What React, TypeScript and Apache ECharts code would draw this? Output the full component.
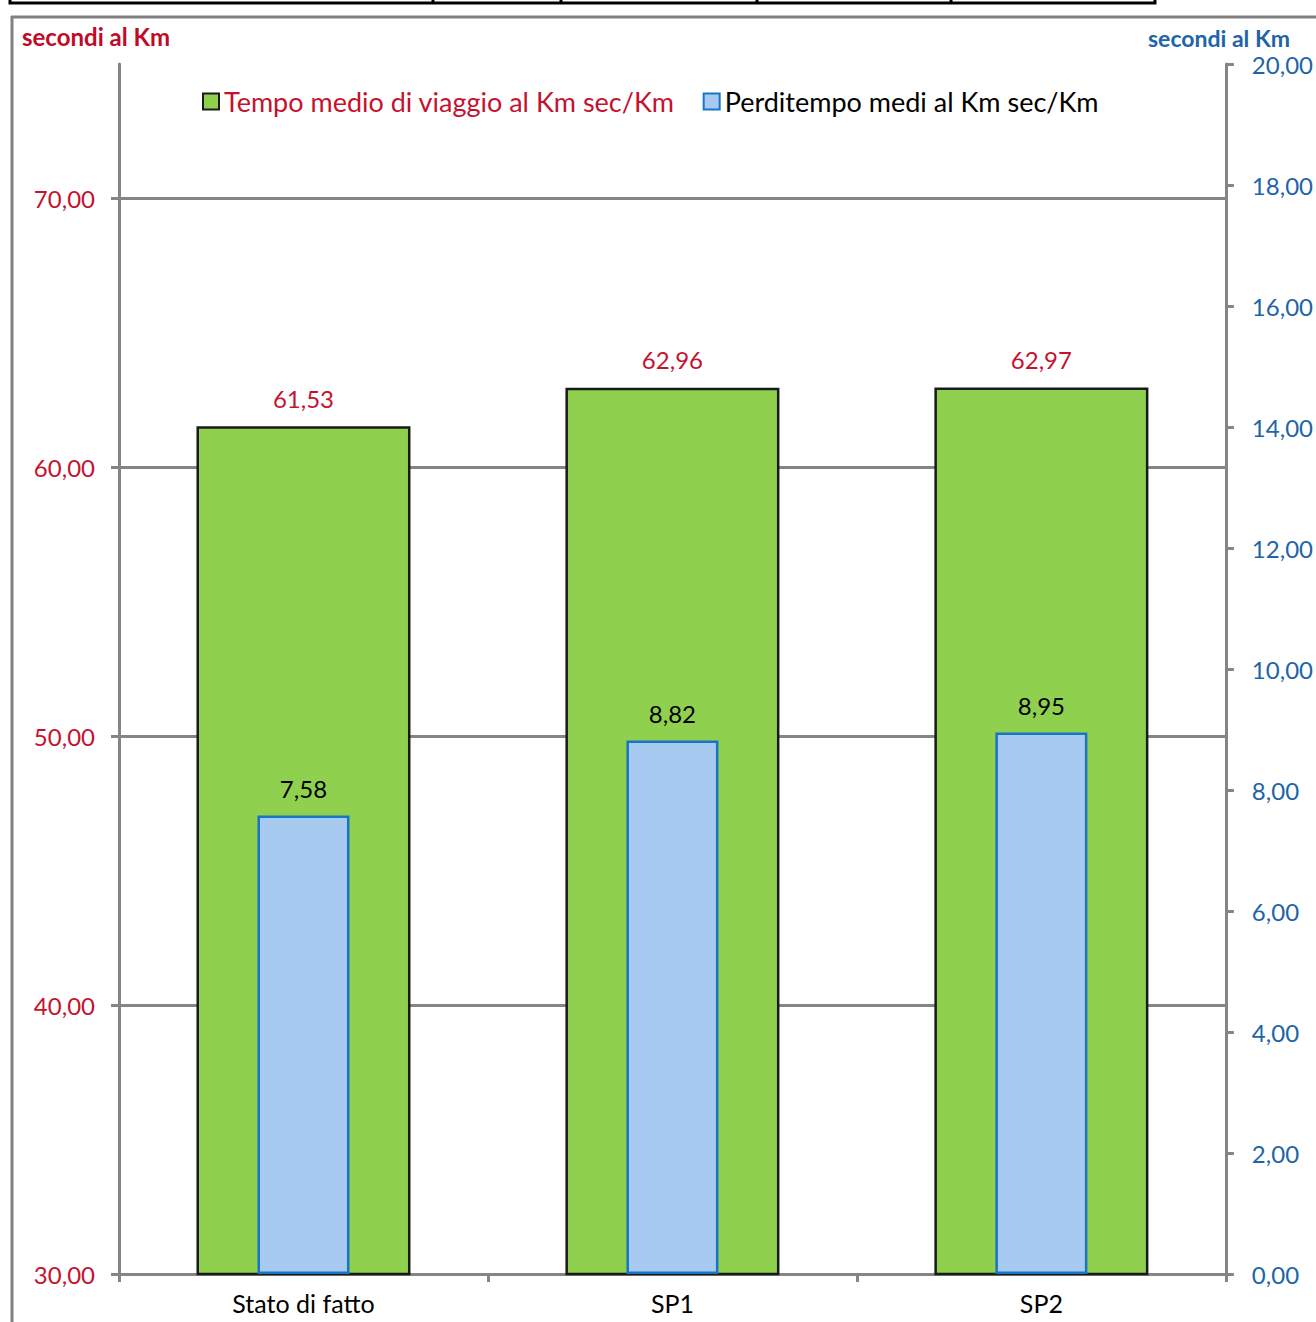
import React, { useEffect, useRef } from "react";
import * as echarts from "echarts";

const categories = ["Stato di fatto", "SP1", "SP2"];
const tempoMedio = [61.53, 62.96, 62.97];
const perditempo = [7.58, 8.82, 8.95];
const leftTicks = [30, 40, 50, 60, 70];
const seriesNames = ["Tempo medio di viaggio al Km sec/Km", "Perditempo medi al Km sec/Km"];
const axisTitle = "secondi al Km";
const tableDividers = [433, 561, 757, 951];

const FONT = "Lato";
const RED = "#C4122F";
const BLUE = "#1E64A8";
const GRAY = "#858585";
const fmt = (v: number) => v.toFixed(2).replace(".", ",");

export default function App() {
  const ref = useRef<HTMLDivElement>(null);
  useEffect(() => {
    if (!ref.current) return;
    const chart = echarts.init(ref.current, null, { renderer: "svg" });
    const graphics: any[] = [
      { type: "rect", shape: { x: 10, y: -20, width: 1145, height: 23 }, style: { fill: "none", stroke: "#000", lineWidth: 3 }, z: 10 },
      ...tableDividers.map((x) => ({ type: "line", shape: { x1: x, y1: -5, x2: x, y2: 3 }, style: { stroke: "#000", lineWidth: 3 }, z: 10 })),
      { type: "line", shape: { x1: 11, y1: 17, x2: 1316, y2: 17 }, style: { stroke: "#808080", lineWidth: 3 }, z: 10 },
      { type: "line", shape: { x1: 12, y1: 16, x2: 12, y2: 1322 }, style: { stroke: "#808080", lineWidth: 3 }, z: 10 },
      { type: "text", x: 22, y: 24, style: { text: axisTitle, fill: "#C00A28", font: `bold 24px ${FONT}` }, z: 10 },
      { type: "text", x: 1148, y: 26, style: { text: axisTitle, fill: BLUE, font: `bold 23px ${FONT}` }, z: 10 },
    ];
    chart.setOption({
      animation: false,
      backgroundColor: "#fff",
      textStyle: { fontFamily: FONT },
      graphic: graphics,
      legend: {
        left: 197,
        top: 83,
        itemWidth: 16,
        itemHeight: 16,
        itemGap: 28,
        icon: "rect",
        textStyle: { fontSize: 27, fontFamily: FONT },
        data: [
          { name: seriesNames[0], textStyle: { color: RED } },
          { name: seriesNames[1], textStyle: { color: "#000" } },
        ],
      },
      grid: { left: 119, right: 86, top: 64, bottom: 48 },
      xAxis: [
        {
          type: "category",
          data: categories,
          axisLine: { lineStyle: { color: GRAY, width: 3 } },
          axisTick: { show: true, length: 8, lineStyle: { color: GRAY, width: 3 } },
          axisLabel: { color: "#000", fontSize: 25, margin: 16, fontFamily: FONT },
        },
        { type: "category", data: categories, show: false },
      ],
      yAxis: [
        {
          type: "value",
          min: 30,
          max: 75,
          interval: 10,
          position: "left",
          axisLine: { show: true, lineStyle: { color: GRAY, width: 3 } },
          axisTick: { show: true, length: 8, inside: false, lineStyle: { color: GRAY, width: 3 }, customValues: leftTicks },
          axisLabel: { color: RED, fontSize: 24, margin: 24, formatter: fmt, customValues: leftTicks, fontFamily: FONT },
          splitLine: { show: true, showMinLine: false, showMaxLine: true, lineStyle: { color: GRAY, width: 3 } },
        },
        {
          type: "value",
          min: 0,
          max: 20,
          interval: 2,
          position: "right",
          axisLine: { show: true, lineStyle: { color: GRAY, width: 3 } },
          axisTick: { show: true, length: 8, lineStyle: { color: GRAY, width: 3 } },
          axisLabel: { color: BLUE, fontSize: 24, margin: 26, formatter: fmt, fontFamily: FONT },
          splitLine: { show: false },
        },
      ],
      series: [
        {
          name: seriesNames[0],
          type: "bar",
          xAxisIndex: 0,
          yAxisIndex: 0,
          data: tempoMedio,
          barWidth: 214,
          itemStyle: { color: "#8FD14F", borderColor: "#1A1A1A", borderWidth: 2.5 },
          label: { show: true, position: "top", distance: 16, color: RED, fontSize: 24, formatter: (p: any) => fmt(p.value), fontFamily: FONT },
          z: 2,
        },
        {
          name: seriesNames[1],
          type: "bar",
          xAxisIndex: 1,
          yAxisIndex: 1,
          data: perditempo,
          barWidth: 92,
          itemStyle: { color: "#A6CAF0", borderColor: "#1874C4", borderWidth: 2.5 },
          label: { show: true, position: "top", distance: 15, color: "#000", fontSize: 24, formatter: (p: any) => fmt(p.value), fontFamily: FONT },
          z: 3,
        },
      ],
    });
    return () => chart.dispose();
  }, []);
  return <div ref={ref} style={{ position: "fixed", left: 0, top: 0, width: 1316, height: 1322 }} />;
}
